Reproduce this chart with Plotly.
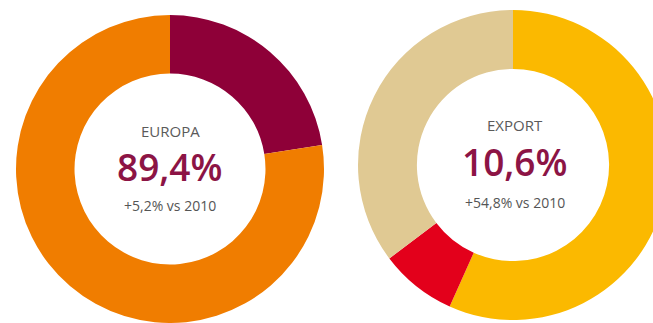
import plotly.graph_objects as go

# Share split inside each ring (percent of the full circle)
europa_labels = ["Quota A", "Quota B"]
europa_values = [22.5, 77.5]
europa_colors = ["#8E0038", "#F07D00"]

export_labels = ["Quota A", "Quota B", "Quota C"]
export_values = [56.7, 8.0, 35.3]
export_colors = ["#FBB900", "#E3001B", "#E0C993"]

# Centre captions
titles = ["EUROPA", "EXPORT"]
shares = ["89,4%", "10,6%"]
changes = ["+5,2% vs 2010", "+54,8% vs 2010"]

W, H = 670, 323


def px_x(v):
    return v / W


def px_y(v):
    return 1 - v / H


fig = go.Figure()

fig.add_trace(go.Pie(
    labels=europa_labels, values=europa_values,
    marker=dict(colors=europa_colors, line=dict(width=0)),
    hole=0.62, sort=False, direction="clockwise", rotation=0,
    textinfo="none", hoverinfo="skip", showlegend=False,
    domain=dict(x=[px_x(16), px_x(324)], y=[px_y(323), px_y(15)]),
))

fig.add_trace(go.Pie(
    labels=export_labels, values=export_values,
    marker=dict(colors=export_colors, line=dict(width=0)),
    hole=0.62, sort=False, direction="clockwise", rotation=0,
    textinfo="none", hoverinfo="skip", showlegend=False,
    domain=dict(x=[px_x(358), px_x(668)], y=[px_y(320), px_y(10)]),
))

centres = [(170, [131, 166, 205]), (515, [125, 161, 202])]
for i, (cx, ys) in enumerate(centres):
    fig.add_annotation(x=px_x(cx), y=px_y(ys[0]), xref="paper", yref="paper",
                       xanchor="center", yanchor="middle", borderpad=0,
                       text=titles[i], showarrow=False,
                       font=dict(family="Open Sans", size=15, color="#5A5A5A"))
    fig.add_annotation(x=px_x(cx), y=px_y(ys[1]), xref="paper", yref="paper",
                       xanchor="center", yanchor="middle", borderpad=0,
                       text=shares[i], showarrow=False,
                       font=dict(family="Open Sans", size=37, color="#8C1445",
                                 weight=600))
    fig.add_annotation(x=px_x(cx), y=px_y(ys[2]), xref="paper", yref="paper",
                       xanchor="center", yanchor="middle", borderpad=0,
                       text=changes[i], showarrow=False,
                       font=dict(family="Open Sans", size=14, color="#555555"))

fig.update_layout(
    width=W, height=H,
    margin=dict(l=0, r=0, t=0, b=0),
    paper_bgcolor="white", plot_bgcolor="white",
)

fig.write_html(
    "out.html",
    post_script="document.documentElement.style.overflow='hidden';"
                "document.body.style.overflow='hidden';"
                "document.body.style.margin='0';",
)
